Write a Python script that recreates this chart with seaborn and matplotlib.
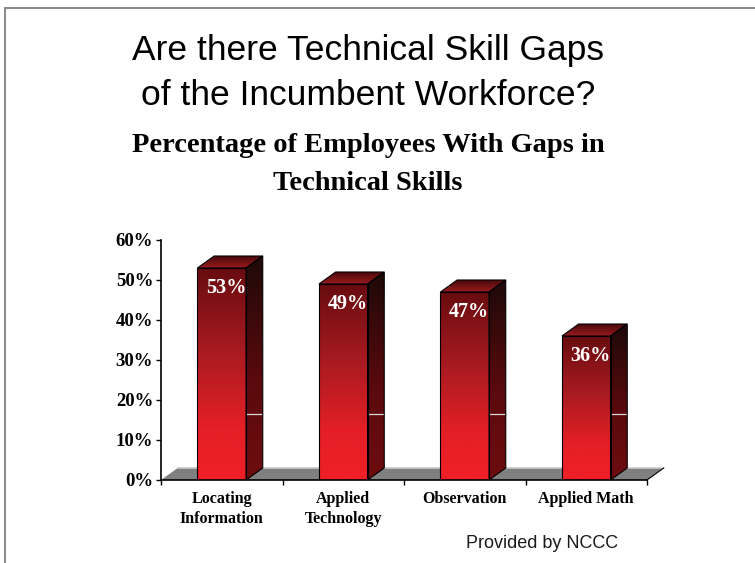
import numpy as np
import pandas as pd
import matplotlib
matplotlib.use("Agg")
import matplotlib.pyplot as plt
import seaborn as sns
from matplotlib.colors import LinearSegmentedColormap
from matplotlib.patches import Polygon
from matplotlib.lines import Line2D

# ---------------- data ----------------
categories = ["Locating\nInformation", "Applied\nTechnology", "Observation", "Applied Math"]
values = [53, 49, 47, 36]
value_labels = ["53%", "49%", "47%", "36%"]
y_ticks = [0, 10, 20, 30, 40, 50, 60]
y_tick_labels = ["0%", "10%", "20%", "30%", "40%", "50%", "60%"]
title_lines = ["Are there Technical Skill Gaps", "of the Incumbent Workforce?"]
subtitle_lines = ["Percentage of Employees With Gaps in", "Technical Skills"]
source_text = "Provided by NCCC"

# ---------------- style ----------------
sns.set_theme(style="ticks")
plt.rcParams['font.family'] = ['Liberation Serif', 'DejaVu Serif']

W, H = 755, 563
fig = plt.figure(figsize=(W / 100, H / 100), dpi=100)
ax = fig.add_axes([161 / W, (H - 480) / H, 486 / W, 240 / H])

df = pd.DataFrame({"category": categories, "value": values})
sns.barplot(data=df, x="category", y="value", ax=ax, width=0.4,
            color="#ee1c24", saturation=1, edgecolor="black",
            linewidth=0.8, zorder=4)
ax.set_xlim(-0.5, 3.5)
ax.set_ylim(0, 60)

# depth offset (pixels -> data)
ax_w_px = 486.0
ax_h_px = 240.0
dx = 16.7 * (4.0 / ax_w_px)
dy = 12.0 * (60.0 / ax_h_px)

front_cmap = LinearSegmentedColormap.from_list(
    "front", [(0.0, "#f01f26"), (0.25, "#e41f26"), (0.6, "#a91b21"), (1.0, "#680c10")])
side_cmap = LinearSegmentedColormap.from_list(
    "side", [(0.0, "#6e0d10"), (0.45, "#5a0a0d"), (1.0, "#1e0909")])
top_cmap = LinearSegmentedColormap.from_list(
    "top", [(0.0, "#9a1a1f"), (1.0, "#4a0a0c")])

grad = np.linspace(0, 1, 256).reshape(-1, 1)

# floor
floor = Polygon([(-0.5, 0), (3.5, 0), (3.5 + dx, dy), (-0.5 + dx, dy)],
                closed=True, facecolor="#808080", edgecolor="none",
                zorder=1, clip_on=False)
ax.add_patch(floor)
ax.add_line(Line2D([-0.5 + dx, 3.5 + dx], [dy, dy], color="#c8c8c8", lw=1.2,
                   zorder=1.5, clip_on=False))
ax.add_line(Line2D([3.5, 3.5 + dx], [0, dy], color="black", lw=0.8,
                   zorder=1.5, clip_on=False))

for p, lab in zip(ax.patches[:len(values)], value_labels):
    x0 = p.get_x()
    w = p.get_width()
    h = p.get_height()
    x1 = x0 + w
    p.set_facecolor("none")
    # front face gradient
    ax.imshow(grad, extent=[x0, x1, 0, h], origin="lower", cmap=front_cmap,
              aspect="auto", zorder=3, interpolation="bilinear")
    # side face
    side = Polygon([(x1, 0), (x1 + dx, dy), (x1 + dx, h + dy), (x1, h)],
                   closed=True, facecolor="none", edgecolor="black",
                   linewidth=0.8, zorder=4)
    ax.add_patch(side)
    im = ax.imshow(grad, extent=[x1, x1 + dx, 0, h + dy], origin="lower",
                   cmap=side_cmap, aspect="auto", zorder=3,
                   interpolation="bilinear")
    im.set_clip_path(side)
    ax.add_line(Line2D([x1, x1 + dx], [16.5, 16.5], color="#d8d8d8", lw=0.9,
                       zorder=3.5))
    # top face
    top = Polygon([(x0, h), (x1, h), (x1 + dx, h + dy), (x0 + dx, h + dy)],
                  closed=True, facecolor="none", edgecolor="black",
                  linewidth=0.8, zorder=4)
    ax.add_patch(top)
    imt = ax.imshow(grad, extent=[x0, x1 + dx, h, h + dy], origin="lower",
                    cmap=top_cmap, aspect="auto", zorder=3,
                    interpolation="bilinear")
    imt.set_clip_path(top)
    # value label
    ax.annotate(lab, xy=(x0 + w / 2, h), xytext=(3, -18),
                textcoords="offset points", ha="center", va="baseline",
                color="white", fontsize=14.5, fontweight="bold",
                family=["Liberation Serif"], zorder=6)

ax.set_xlim(-0.5, 3.5)
ax.set_ylim(0, 60)

# axes styling
sns.despine(ax=ax, top=True, right=True)
for s in ["left", "bottom"]:
    ax.spines[s].set_color("black")
    ax.spines[s].set_linewidth(1.2)
    ax.spines[s].set_zorder(5)

ax.set_yticks(y_ticks)
ax.set_yticklabels(y_tick_labels, fontsize=13.5, fontweight="bold")
ax.set_xticks(range(len(categories)))
ax.set_xticklabels(categories, fontsize=11.5, fontweight="bold", linespacing=1.3)
ax.set_xticks([-0.5, 0.5, 1.5, 2.5, 3.5], minor=True)
ax.tick_params(axis="x", which="major", length=0, pad=8, colors="black")
ax.tick_params(axis="x", which="minor", length=3.6, width=1, direction="out",
               color="black", bottom=True)
ax.tick_params(axis="y", which="major", length=3.6, width=1, direction="out",
               pad=2, colors="black", left=True)
ax.set_xlabel("")
ax.set_ylabel("")
ax.grid(False)

# titles
cx = 368 / W
fig.text(cx, 1 - 60 / H, title_lines[0], ha="center", va="baseline",
         fontsize=25.5, family=["Liberation Sans"], color="black")
fig.text(cx, 1 - 105 / H, title_lines[1], ha="center", va="baseline",
         fontsize=25.5, family=["Liberation Sans"], color="black")
fig.text(cx, 1 - 152 / H, subtitle_lines[0], ha="center", va="baseline",
         fontsize=20.5, fontweight="bold", family=["Liberation Serif"], color="black")
fig.text(cx, 1 - 190 / H, subtitle_lines[1], ha="center", va="baseline",
         fontsize=20.5, fontweight="bold", family=["Liberation Serif"], color="black")
fig.text(466 / W, 1 - 548 / H, source_text, ha="left", va="baseline",
         fontsize=13, family=["Liberation Sans"], color="#1a1a1a")

# slide border
fig.add_artist(Line2D([4.5 / W, 1.0], [1 - 7.5 / H, 1 - 7.5 / H],
                      transform=fig.transFigure, color="#808080", lw=1.3))
fig.add_artist(Line2D([4.5 / W, 4.5 / W], [0.0, 1 - 7.5 / H],
                      transform=fig.transFigure, color="#808080", lw=1.3))

fig.savefig("out.png", dpi=100, facecolor="white")
